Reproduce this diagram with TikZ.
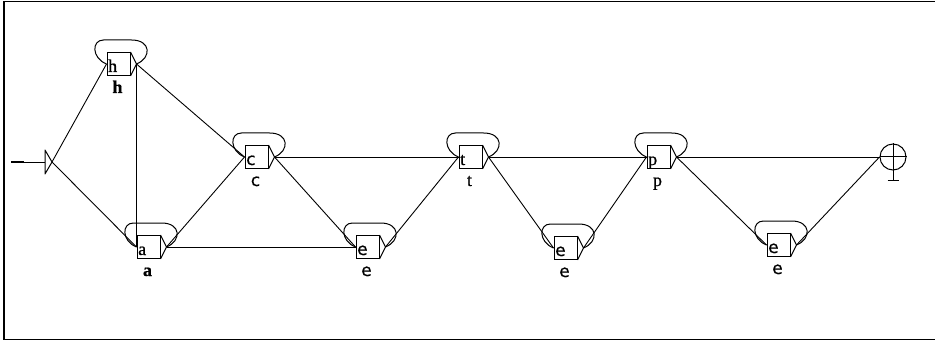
\documentclass[tikz,border=0pt]{standalone}
\usepackage{fontspec}
\setmainfont{Liberation Serif}[FakeBold=0.8]
\newfontfamily\sansletter{DejaVu Sans}[FakeBold=0.6]
\usetikzlibrary{calc}

% fonts of the state symbols
\newcommand\serifsym{\fontsize{18}{20}\selectfont}
\newcommand\serifsymbold{\fontsize{18}{20}\selectfont\bfseries}
\newcommand\sanssym{\sansletter\fontsize{17}{20}\selectfont}

% a state: square box with a right-pointing tab, a self loop over it,
% its symbol inside and its label below
% #1 name, #2 left x, #3 centre y, #4 symbol font, #5 label font, #6 symbol
\newcommand\fsastate[6]{%
  \node[statebox] (#1) at (#2+11.5,#3) {};
  \coordinate (#1-out) at ($(#1.east)+(6pt,0pt)$);
  \draw[thinline] (#1.north east) -- (#1-out) -- (#1.south east);
  \node[font=#4, anchor=base west, inner sep=0pt] (#1-sym)
    at ($(#1.south west)+(1.5pt,4pt)$) {#6};
  \node[font=#5, anchor=base, inner sep=0pt] (#1-lab)
    at ($(#1.south)+(-1pt,-17pt)$) {#6};
  \draw[thinline] (#1.west)
    .. controls ($(#1.west)+(-15pt,6pt)$) and ($(#1.west)+(-15pt,24pt)$)
    .. ($(#1.west)+(-3pt,24pt)$) -- ($(#1-out)+(-5pt,24pt)$)
    .. controls ($(#1-out)+(15pt,24pt)$) and ($(#1-out)+(15pt,6pt)$)
    .. (#1-out);
}

\begin{document}
\begin{tikzpicture}[x=1pt,y=-1pt,
  thinline/.style={line width=1pt, line join=round},
  statebox/.style={draw, line width=1pt, minimum width=23pt,
    minimum height=23pt, inner sep=0pt},
  edge/.style={line width=0.9pt},
  framebar/.style={line width=1.6pt}]
\useasboundingbox (0,0) rectangle (935,342);

% frame
\draw[framebar] (935,1.5) -- (4,1.5) -- (4,339.5) -- (935,339.5);

% states
\fsastate{h}{107}{64}{\serifsym}{\serifsymbold}{h}
\fsastate{a}{137}{247}{\serifsym}{\serifsymbold}{a}
\fsastate{c}{245}{157}{\sanssym}{\sanssym}{c}
\fsastate{e1}{356}{247}{\sanssym}{\sanssym}{e}
\fsastate{t}{459}{157}{\serifsym}{\serifsym}{t}
\fsastate{e2}{554}{248}{\sanssym}{\sanssym}{e}
\fsastate{p}{647}{157}{\serifsym}{\serifsym}{p}
\fsastate{e3}{767}{245}{\sanssym}{\sanssym}{e}

% initial state
\coordinate (entry) at (11,162);
\coordinate (start-base) at (45,162);
\coordinate (start) at (52,162);
\draw[thinline] ($(start-base)+(0pt,12pt)$) -- (start)
  -- ($(start-base)+(0pt,-12pt)$) -- cycle;
\draw[line width=2.2pt] (entry) -- ($(entry)+(13pt,0pt)$);
\draw[edge] (entry) -- (start-base);

% final state
\node[circle, draw, line width=1pt, minimum size=26pt, inner sep=0pt]
  (fin) at (893,157) {};
\coordinate (fin-foot) at ($(fin.south)+(0pt,-10pt)$);
\draw[thinline] (fin.west) -- (fin.east);
\draw[thinline] (fin.north) -- (fin-foot);
\draw[thinline] ($(fin-foot)+(-5.5pt,0pt)$) -- ($(fin-foot)+(5.5pt,0pt)$);

% transitions
\draw[edge] (start) -- (h.west);
\draw[edge] (start) -- (a.west);
\draw[edge] (h-out) -- (a.west);
\draw[edge] (h-out) -- (c.west);
\draw[edge] (a-out) -- (c.west);
\draw[edge] (a-out) -- (e1.west);
\draw[edge] (c-out) -- (t.west);
\draw[edge] (c-out) -- (e1.west);
\draw[edge] (e1-out) -- (t.west);
\draw[edge] (t-out) -- (p.west);
\draw[edge] (t-out) -- (e2.west);
\draw[edge] (e2-out) -- (p.west);
\draw[edge] (p-out) -- (fin.west);
\draw[edge] (p-out) -- (e3.west);
\draw[edge] (e3-out) -- (fin.west);
\end{tikzpicture}
\end{document}
